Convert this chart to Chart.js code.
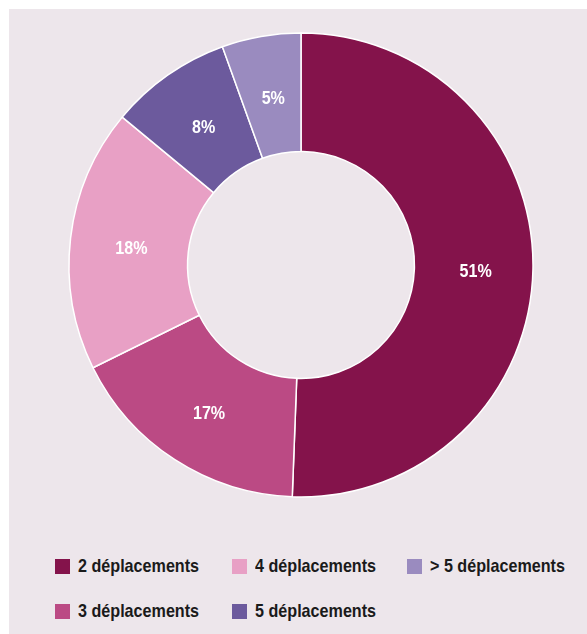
<!DOCTYPE html>
<html>
<head>
<meta charset="utf-8">
<script src="https://cdn.jsdelivr.net/npm/chart.js@4"></script>
<style>
  html, body { margin: 0; padding: 0; background: #fff; }
  #panel { position: absolute; left: 9px; top: 9px; width: 578px; height: 625px; background: #ede6eb; }
  #wrap { position: absolute; left: 52px; top: 16px; width: 480px; height: 480px; }
  .leg { position: absolute; height: 16px; }
  .leg .box { position: absolute; left: 0; top: 0; width: 15px; height: 15px; }
  .leg .txt { position: absolute; left: 23px; top: -4px; font-family: "Liberation Sans", Arial, sans-serif; font-weight: bold; font-size: 18.5px; color: #1a1a1a; white-space: nowrap; transform-origin: 0 50%; }
</style>
</head>
<body>
<div id="panel">
  <div id="wrap"><canvas id="donut" width="480" height="480"></canvas></div>
  <div id="legend"></div>
</div>
<script>
// categories, clockwise from the top
const categories = ['2 déplacements', '3 déplacements', '4 déplacements', '5 déplacements', '> 5 déplacements'];
// shares
const shares = [50.6, 17.1, 18.3, 8.5, 5.5];
// text printed on each slice
const shareLabels = ['51%', '17%', '18%', '8%', '5%'];
const colors = ['#84134b', '#bb4a84', '#e8a0c5', '#6c5a9d', '#9a8bbf'];

// legend grid: [category index, column, row]
const legendLayout = [[0, 0, 0], [2, 1, 0], [4, 2, 0], [1, 0, 1], [3, 1, 1]];
const colX = [46, 223, 398];
const rowY = [550, 595];

// condense the text so "2 déplacements" is about 121px wide, like the original narrow face
const probe = document.createElement('canvas').getContext('2d');
probe.font = 'bold 18.5px "Liberation Sans", Arial, sans-serif';
const squeeze = 121 / probe.measureText(categories[0]).width;

const legend = document.getElementById('legend');
legendLayout.forEach(([i, c, r]) => {
    const item = document.createElement('div');
    item.className = 'leg';
    item.style.left = colX[c] + 'px';
    item.style.top = rowY[r] + 'px';
    item.innerHTML = '<span class="box" style="background:' + colors[i] + '"></span>' +
        '<span class="txt" style="transform:scaleX(' + squeeze.toFixed(3) + ')">' + categories[i] + '</span>';
    legend.appendChild(item);
});

// write the percentages in the middle of each ring slice
const sliceLabels = {
    id: 'sliceLabels',
    afterDatasetsDraw(chart) {
        const ctx = chart.ctx;
        const meta = chart.getDatasetMeta(0);
        meta.data.forEach((arc, i) => {
            const p = arc.tooltipPosition();
            ctx.save();
            ctx.translate(p.x + 2, p.y + 4);
            ctx.scale(0.87, 1);
            ctx.fillStyle = '#ffffff';
            ctx.font = 'bold 18.5px "Liberation Sans", Arial, sans-serif';
            ctx.textAlign = 'center';
            ctx.textBaseline = 'middle';
            ctx.fillText(shareLabels[i], 0, 0);
            ctx.restore();
        });
    }
};

new Chart(document.getElementById('donut').getContext('2d'), {
    type: 'doughnut',
    data: {
        labels: categories,
        datasets: [{
            data: shares,
            backgroundColor: colors,
            borderColor: '#ffffff',
            borderWidth: 1.5
        }]
    },
    options: {
        responsive: false,
        animation: false,
        radius: 232,
        cutout: 117,
        layout: { padding: 0 },
        plugins: {
            legend: { display: false },
            tooltip: { enabled: false }
        }
    },
    plugins: [sliceLabels]
});
</script>
</body>
</html>
